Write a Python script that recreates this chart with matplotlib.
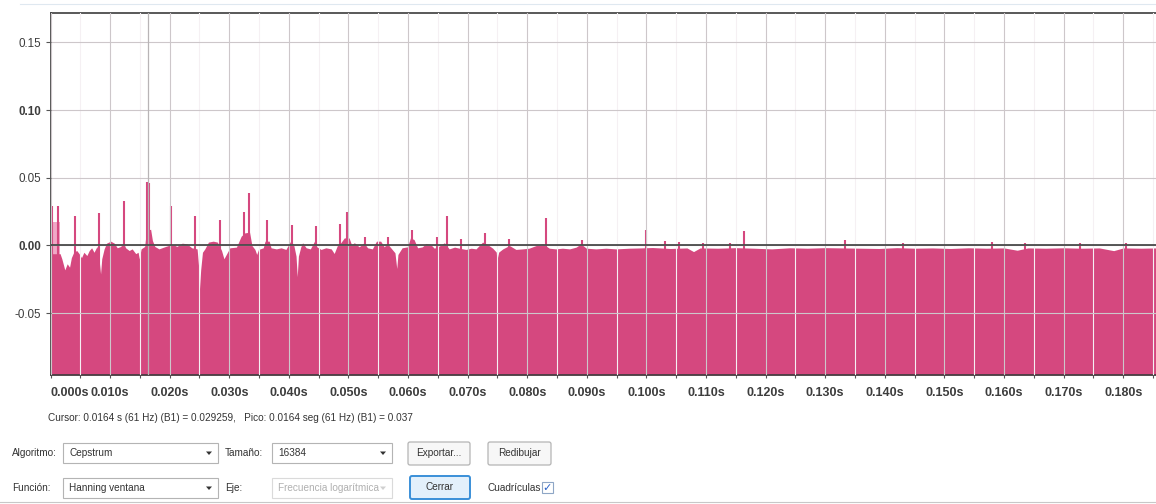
import numpy as np
import matplotlib.pyplot as plt
from matplotlib.patches import Rectangle, FancyBboxPatch, Polygon

# ---------------------------------------------------------------------------
# Cepstrum (quefrency in seconds, amplitude)
# ---------------------------------------------------------------------------
quef = [
    0.0000, 0.0016, 0.0019, 0.0022, 0.0024, 0.0028, 0.0032, 0.0035, 0.0039, 0.0044,
    0.0048, 0.0052, 0.0056, 0.0061, 0.0065, 0.0069, 0.0073, 0.0078, 0.0080, 0.0084,
    0.0086, 0.0090, 0.0094, 0.0101, 0.0107, 0.0112, 0.0118, 0.0122, 0.0126, 0.0132,
    0.0137, 0.0143, 0.0147, 0.0149, 0.0152, 0.0158, 0.0161, 0.0168, 0.0171, 0.0175,
    0.0182, 0.0190, 0.0198, 0.0206, 0.0212, 0.0221, 0.0229, 0.0237, 0.0246, 0.0249,
    0.0250, 0.0252, 0.0255, 0.0259, 0.0265, 0.0273, 0.0280, 0.0287, 0.0291, 0.0294,
    0.0301, 0.0312, 0.0320, 0.0326, 0.0334, 0.0338, 0.0343, 0.0346, 0.0349, 0.0357,
    0.0360, 0.0367, 0.0370, 0.0379, 0.0387, 0.0395, 0.0403, 0.0408, 0.0412, 0.0414,
    0.0416, 0.0420, 0.0423, 0.0429, 0.0436, 0.0443, 0.0447, 0.0454, 0.0462, 0.0471,
    0.0476, 0.0482, 0.0487, 0.0493, 0.0501, 0.0505, 0.0510, 0.0518, 0.0526, 0.0532,
    0.0540, 0.0547, 0.0554, 0.0560, 0.0565, 0.0571, 0.0578, 0.0581, 0.0583, 0.0590,
    0.0599, 0.0604, 0.0610, 0.0616, 0.0624, 0.0630, 0.0638, 0.0644, 0.0652, 0.0661,
    0.0669, 0.0678, 0.0686, 0.0697, 0.0706, 0.0714, 0.0725, 0.0734, 0.0742, 0.0748,
    0.0749, 0.0752, 0.0759, 0.0770, 0.0781, 0.0792, 0.0803, 0.0815, 0.0826, 0.0837,
    0.0848, 0.0859, 0.0871, 0.0882, 0.0890, 0.0899, 0.0915, 0.0932, 0.0949, 0.0971,
    0.0990, 0.1010, 0.1040, 0.1068, 0.1079, 0.1090, 0.1120, 0.1150, 0.1180, 0.1210,
    0.1240, 0.1270, 0.1300, 0.1330, 0.1360, 0.1390, 0.1420, 0.1450, 0.1480, 0.1510,
    0.1540, 0.1570, 0.1600, 0.1622, 0.1640, 0.1670, 0.1700, 0.1730, 0.1760, 0.1784,
    0.1800, 0.1830, 0.1855,
]
ceps = [
    -0.0060, -0.0060, -0.0098, -0.0147, -0.0180, -0.0135, -0.0160, -0.0090, -0.0050, -0.0037,
    -0.0060, -0.0090, -0.0050, -0.0074, -0.0037, -0.0017, -0.0050, -0.0007, -0.0037, -0.0210,
    -0.0098, -0.0025, 0.0017, 0.0032, 0.0017, -0.0017, -0.0007, 0.0025, -0.0017, -0.0037,
    -0.0025, -0.0060, -0.0050, -0.0098, -0.0025, -0.0007, 0.0110, 0.0120, 0.0037, -0.0007,
    -0.0025, -0.0012, 0.0000, 0.0007, -0.0007, 0.0017, 0.0012, -0.0017, -0.0025, -0.0180,
    -0.0320, -0.0180, -0.0050, -0.0025, 0.0025, 0.0032, 0.0025, -0.0037, -0.0098, -0.0074,
    -0.0017, -0.0012, 0.0069, 0.0093, 0.0098, 0.0000, -0.0029, -0.0066, -0.0029, -0.0017,
    0.0032, 0.0032, -0.0017, -0.0025, -0.0017, -0.0029, 0.0032, 0.0007, -0.0078, -0.0230,
    -0.0078, -0.0010, 0.0020, -0.0017, -0.0025, 0.0032, -0.0010, -0.0029, -0.0017, -0.0025,
    -0.0059, 0.0007, 0.0020, 0.0056, 0.0056, 0.0007, 0.0020, -0.0010, 0.0020, -0.0017,
    -0.0025, 0.0032, 0.0032, -0.0010, 0.0015, -0.0017, -0.0054, -0.0170, -0.0066, -0.0017,
    -0.0010, 0.0056, 0.0044, -0.0017, -0.0010, 0.0015, 0.0007, -0.0020, -0.0005, 0.0020,
    -0.0025, -0.0012, -0.0020, -0.0029, -0.0020, -0.0025, 0.0025, 0.0005, -0.0020, -0.0049,
    -0.0110, -0.0049, -0.0025, 0.0000, -0.0029, -0.0025, -0.0020, 0.0000, 0.0012, -0.0020,
    -0.0025, -0.0020, -0.0025, -0.0012, 0.0012, -0.0020, -0.0025, -0.0020, -0.0025, -0.0020,
    -0.0018, -0.0015, -0.0022, -0.0018, -0.0045, -0.0018, -0.0020, -0.0016, -0.0020, -0.0025,
    -0.0017, -0.0020, -0.0016, -0.0018, -0.0020, -0.0022, -0.0016, -0.0020, -0.0018, -0.0022,
    -0.0017, -0.0020, -0.0018, -0.0035, -0.0018, -0.0020, -0.0017, -0.0020, -0.0018, -0.0038,
    -0.0018, -0.0020, -0.0018,
]

# lighter band at the lowest quefrencies
lowq_t = [0.0000, 0.0016]
lowq_top = [0.0170, 0.0170]
lowq_base = [-0.0060, -0.0060]

# cepstral peaks (pitch harmonics and small bumps)
peak_t = [
    0.0003, 0.0013, 0.0041, 0.0082, 0.0123, 0.0162, 0.0166, 0.0202, 0.0243, 0.0284,
    0.0324, 0.0333, 0.0364, 0.0405, 0.0445, 0.0485, 0.0497, 0.0527, 0.0566, 0.0607,
    0.0648, 0.0665, 0.0689, 0.0729, 0.0770, 0.0831, 0.0892, 0.0999, 0.1031, 0.1055,
    0.1095, 0.1140, 0.1164, 0.1333, 0.1430, 0.1579, 0.1635, 0.1728, 0.1805,
]
peak_v = [
    0.0290, 0.0290, 0.0220, 0.0240, 0.0330, 0.0470, 0.0460, 0.0290, 0.0215, 0.0190,
    0.0250, 0.0390, 0.0186, 0.0154, 0.0142, 0.0162, 0.0245, 0.0060, 0.0060, 0.0118,
    0.0060, 0.0220, 0.0050, 0.0090, 0.0050, 0.0203, 0.0044, 0.0113, 0.0030, 0.0025,
    0.0020, 0.0015, 0.0105, 0.0044, 0.0015, 0.0027, 0.0015, 0.0015, 0.0020,
]

cursor_t = 0.0164

xtick_vals = [i / 100 for i in range(19)]
xtick_labels = ['%.3fs' % v for v in xtick_vals]
ytick_vals = [-0.05, 0.00, 0.05, 0.10, 0.15]
ytick_labels = ['-0.05', '0.00', '0.05', '0.10', '0.15']

PINK = '#d5487f'
LIGHT_PINK = '#f0a8c6'
YMIN, YMAX = -0.0956, 0.172

W, H = 1156, 504
fig = plt.figure(figsize=(W / 100, H / 100), dpi=100)
fig.patch.set_facecolor('white')

# ---------------------------------------------------------------------------
# Plot area
# ---------------------------------------------------------------------------
ax = fig.add_axes([50.5 / W, (H - 375) / H, (W - 50.5) / W, 362.5 / H])
ax.set_xlim(0, 0.1855)
ax.set_ylim(YMIN, YMAX)

ax.fill_between(quef, ceps, YMIN, color=PINK, lw=0, zorder=1)
ax.fill_between(lowq_t, lowq_top, lowq_base, color=LIGHT_PINK, lw=0, zorder=1.2)
ax.vlines(peak_t, YMIN, peak_v, color=PINK, lw=1.5, zorder=1.5)

ax.set_xticks(xtick_vals)
ax.set_xticks([v + 0.005 for v in xtick_vals], minor=True)
ax.set_yticks(ytick_vals)

ax.set_axisbelow(False)
ax.grid(which='major', axis='x', color='#cdc7ca', lw=0.8)
ax.grid(which='minor', axis='x', color='#f5f0f3', lw=0.8)
ax.grid(which='major', axis='y', color='#cdc7ca', lw=0.8)

ax.axvline(cursor_t, color='#b8b4b6', lw=0.9, zorder=2.6)
ax.axhline(0, color='#4a4a4a', lw=1.3, zorder=3)

ax.spines['right'].set_visible(False)
for side in ('top', 'left', 'bottom'):
    ax.spines[side].set_color('#3c3c3c')
    ax.spines[side].set_linewidth(1.2)

ax.tick_params(axis='x', which='major', direction='out', length=2.5, width=0.8,
               color='#555555', pad=6)
ax.tick_params(axis='x', which='minor', direction='out', length=2, width=0.8,
               color='#555555')
ax.tick_params(axis='y', direction='out', length=3.5, width=0.8, color='#555555', pad=3)

ax.set_xticklabels(xtick_labels, fontfamily='Liberation Sans', fontweight='bold',
                   fontsize=9, color='#3d3d3d')
ax.get_xticklabels()[0].set_horizontalalignment('left')
ax.set_yticklabels(ytick_labels, fontfamily='Liberation Sans', fontsize=8.4,
                   color='#3d3d3d')
for lbl in ax.get_yticklabels():
    if lbl.get_text() in ('0.00', '0.10'):
        lbl.set_fontweight('bold')

# ---------------------------------------------------------------------------
# Dialog controls below the plot
# ---------------------------------------------------------------------------
ui = fig.add_axes([0, 0, 1, 1])
ui.set_xlim(0, W)
ui.set_ylim(H, 0)
ui.axis('off')

ui_font = dict(fontfamily='Liberation Sans', fontsize=7.2, color='#333333', va='center')

ui.plot([20, W], [4, 4], color='#dfe8f0', lw=0.8)
ui.plot([0, W], [502, 502], color='#c8c8c8', lw=0.8)

ui.text(48, 418, 'Cursor: 0.0164 s (61 Hz) (B1) = 0.029259,   '
        'Pico: 0.0164 seg (61 Hz) (B1) = 0.037', ha='left', **ui_font)


def combo(x0, x1, y0, y1, text, disabled=False):
    ui.add_patch(Rectangle((x0, y0), x1 - x0, y1 - y0, fc='white',
                           ec='#dadada' if disabled else '#b4b4b4', lw=0.8))
    kw = dict(ui_font)
    if disabled:
        kw['color'] = '#b0b0b0'
    ui.text(x0 + 6, (y0 + y1) / 2, text, ha='left', **kw)
    ax_ = x1 - 9
    yc = (y0 + y1) / 2
    ui.add_patch(Polygon([[ax_ - 3, yc - 1.5], [ax_ + 3, yc - 1.5], [ax_, yc + 2]],
                         closed=True, fc='#d0d0d0' if disabled else '#333333', lw=0))


def button(x0, x1, y0, y1, text, fc='#f7f7f7', ec='#b4b4b4', lw=0.9):
    ui.add_patch(FancyBboxPatch((x0, y0), x1 - x0, y1 - y0,
                                boxstyle='round,pad=0,rounding_size=2',
                                fc=fc, ec=ec, lw=lw))
    ui.text((x0 + x1) / 2, (y0 + y1) / 2, text, ha='center', **ui_font)


ui.text(12, 453, 'Algoritmo:', ha='left', **ui_font)
combo(63, 218, 443, 463, 'Cepstrum')
ui.text(225, 453, 'Tamaño:', ha='left', **ui_font)
combo(272, 392, 443, 463, '16384')
button(408, 470, 442, 465, 'Exportar...')
button(488, 551, 442, 465, 'Redibujar')

ui.text(12, 488, 'Función:', ha='left', **ui_font)
combo(63, 218, 478, 498, 'Hanning ventana')
ui.text(225, 488, 'Eje:', ha='left', **ui_font)
combo(272, 392, 478, 498, 'Frecuencia logarítmica', disabled=True)
button(410, 470, 476, 499, 'Cerrar', fc='#e3f0fb', ec='#3a8fd8', lw=1.4)

ui.text(488, 488, 'Cuadrículas', ha='left', **ui_font)
ui.add_patch(Rectangle((542, 482), 11, 11, fc='white', ec='#8ea6c6', lw=0.8))
ui.text(547.5, 487.5, '✓', ha='center', va='center', fontfamily='DejaVu Sans',
        fontsize=8, color='#2a62c9')

fig.savefig('out.png', dpi=100, facecolor='white')
